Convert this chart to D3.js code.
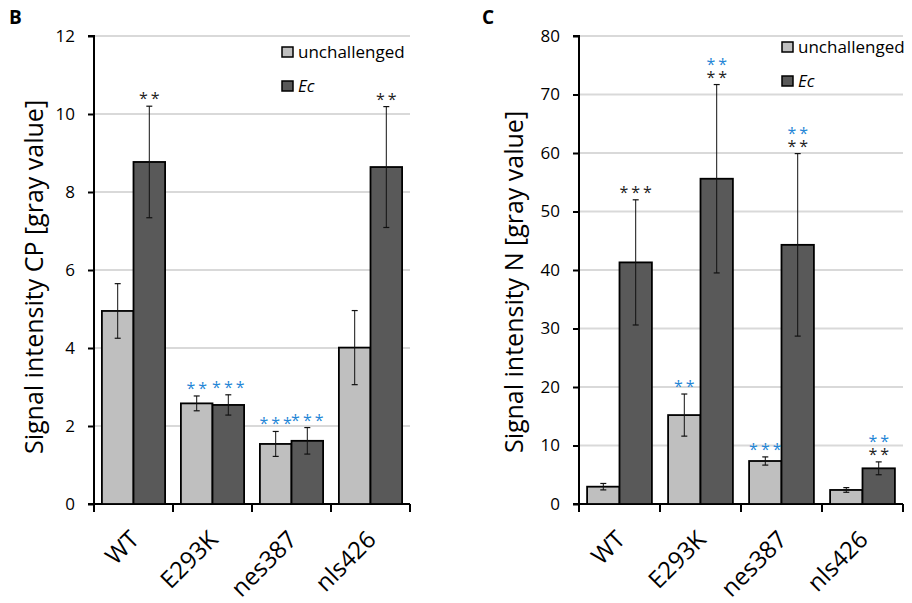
<!DOCTYPE html>
<html>
<head>
<meta charset="utf-8">
<script src="https://cdn.jsdelivr.net/npm/d3@7"></script>
<style>
  body { margin: 0; background: #fff; }
  svg { display: block; font-family: "Open Sans", sans-serif; }
</style>
</head>
<body>
<svg id="chart" width="912" height="603"></svg>
<script>
// data
const categories = ['WT', 'E293K', 'nes387', 'nls426'];

// panel B: CP
const cpUnch = [4.95, 2.58, 1.54, 4.01];
const cpUnchErr = [0.7, 0.19, 0.32, 0.95];
const cpEc = [8.77, 2.54, 1.62, 8.64];
const cpEcErr = [1.43, 0.26, 0.34, 1.55];
const cpUnchBlue = ['', '**', '***', ''];
const cpUnchBlack = ['', '', '', ''];
const cpEcBlue = ['', '***', '***', ''];
const cpEcBlack = ['**', '', '', '**'];
const cpTicks = [0, 2, 4, 6, 8, 10, 12];

// panel C: N
const nUnch = [2.96, 15.2, 7.35, 2.4];
const nUnchErr = [0.55, 3.6, 0.7, 0.4];
const nEc = [41.3, 55.6, 44.3, 6.1];
const nEcErr = [10.7, 16.1, 15.6, 1.1];
const nUnchBlue = ['', '**', '***', ''];
const nUnchBlack = ['', '', '', ''];
const nEcBlue = ['', '**', '**', '**'];
const nEcBlack = ['***', '**', '**', '**'];
const nTicks = [0, 10, 20, 30, 40, 50, 60, 70, 80];

const series = ['unchallenged', 'Ec'];
const fills = { unchallenged: '#bfbfbf', Ec: '#595959' };
const blue = '#1f86d6';

const svg = d3.select('#chart');

const drawPanel = (opt) => {
    const g = svg.append('g');
    const x = d3.scaleBand().domain(categories).range([opt.x0, opt.x1]);
    const sub = d3.scaleBand().domain(series).range([0, x.bandwidth()]).paddingOuter(0.25);
    const y = d3.scaleLinear().domain([0, opt.max]).range([504, 36]);

    // gridlines
    g.selectAll('.grid')
        .data(opt.ticks.filter(t => t > 0))
        .enter()
        .append('line')
        .attr('x1', opt.x0)
        .attr('x2', opt.x1)
        .attr('y1', d => y(d))
        .attr('y2', d => y(d))
        .attr('stroke', '#d9d9d9')
        .attr('stroke-width', 2)

    // y axis
    const yAxis = d3.axisLeft(y).tickValues(opt.ticks).tickSize(6).tickPadding(13);
    const ya = g.append('g').attr('transform', `translate(${opt.x0},0)`).call(yAxis);
    ya.select('.domain').attr('stroke', '#000').attr('stroke-width', 2).attr('d', `M-6,36H0V504H-6`);
    ya.selectAll('.tick line').attr('stroke', '#000').attr('stroke-width', 2);
    ya.selectAll('.tick text').attr('font-size', 17).attr('fill', '#000')
        .attr('font-family', '"Open Sans", sans-serif');

    // x axis line + ticks between categories
    g.append('line')
        .attr('x1', opt.x0).attr('x2', opt.x1)
        .attr('y1', y(0)).attr('y2', y(0))
        .attr('stroke', '#000').attr('stroke-width', 2)
    const edges = categories.map(c => x(c)).concat([opt.x1]);
    g.selectAll('.xtick')
        .data(edges)
        .enter()
        .append('line')
        .attr('x1', d => d).attr('x2', d => d)
        .attr('y1', y(0)).attr('y2', y(0) + 8)
        .attr('stroke', '#000').attr('stroke-width', 2)

    const rows = [];
    categories.forEach((c, i) => {
        rows.push({ cat: c, s: 'unchallenged', v: opt.unch[i], e: opt.unchErr[i], blue: opt.unchBlue[i], black: opt.unchBlack[i] });
        rows.push({ cat: c, s: 'Ec', v: opt.ec[i], e: opt.ecErr[i], blue: opt.ecBlue[i], black: opt.ecBlack[i] });
    });
    const cx = d => x(d.cat) + sub(d.s) + sub.bandwidth() / 2;

    g.selectAll('.bar')
        .data(rows)
        .enter()
        .append('rect')
        .attr('x', d => x(d.cat) + sub(d.s))
        .attr('y', d => y(d.v))
        .attr('width', sub.bandwidth())
        .attr('height', d => y(0) - y(d.v))
        .attr('fill', d => fills[d.s])
        .attr('stroke', '#000')
        .attr('stroke-width', 1.8)

    // error bars
    const eb = g.selectAll('.err').data(rows).enter().append('g');
    eb.append('line')
        .attr('x1', cx).attr('x2', cx)
        .attr('y1', d => y(d.v + d.e)).attr('y2', d => y(d.v - d.e))
        .attr('stroke', '#111').attr('stroke-width', 1)
    eb.append('line')
        .attr('x1', d => cx(d) - 3).attr('x2', d => cx(d) + 3)
        .attr('y1', d => y(d.v + d.e)).attr('y2', d => y(d.v + d.e))
        .attr('stroke', '#111').attr('stroke-width', 1.2)
    eb.append('line')
        .attr('x1', d => cx(d) - 3).attr('x2', d => cx(d) + 3)
        .attr('y1', d => y(d.v - d.e)).attr('y2', d => y(d.v - d.e))
        .attr('stroke', '#111').attr('stroke-width', 1.2)

    // significance stars: one text per bar, blue above black
    const st = eb.filter(d => d.blue || d.black)
        .append('text')
        .attr('text-anchor', 'middle')
        .attr('font-size', 16)
        .attr('letter-spacing', 3)
        .attr('y', d => y(d.v + d.e) - 2);
    st.filter(d => d.blue)
        .append('tspan')
        .text(d => d.blue)
        .attr('x', d => cx(d) + 1.5)
        .attr('dy', d => d.black ? -13 : 0)
        .attr('fill', blue)
    st.filter(d => d.black)
        .append('tspan')
        .text(d => d.black)
        .attr('x', d => cx(d) + 1.5)
        .attr('dy', d => d.blue ? 13 : 0)
        .attr('fill', '#222')

    // x labels
    g.selectAll('.xlab')
        .data(categories)
        .enter()
        .append('text')
        .text(d => d)
        .attr('transform', d => `translate(${x(d) + x.bandwidth() / 2 + 7},${y(0) + 37}) rotate(-45)`)
        .attr('text-anchor', 'end')
        .attr('font-size', 24)
        .attr('fill', '#000')

    // y label
    g.append('text')
        .text(opt.label)
        .attr('transform', `translate(${opt.labelX},${opt.labelY}) rotate(-90)`)
        .attr('text-anchor', 'middle')
        .attr('font-size', 25)
        .attr('fill', '#000')

    // panel letter
    g.append('text')
        .text(opt.letter)
        .attr('x', opt.letterX)
        .attr('y', 24)
        .attr('font-size', 19)
        .attr('font-weight', 'bold')

    // legend
    const lg = g.selectAll('.leg')
        .data(series)
        .enter()
        .append('g')
        .attr('transform', (d, i) => `translate(${opt.legX},${opt.legY + i * 34})`);
    lg.append('rect')
        .attr('width', 11).attr('height', 10)
        .attr('fill', d => fills[d])
        .attr('stroke', '#000').attr('stroke-width', 1.5)
    lg.append('text')
        .text(d => d)
        .attr('x', 16)
        .attr('y', 11)
        .attr('font-size', 17)
        .attr('font-style', d => d === 'Ec' ? 'italic' : 'normal')
        .attr('fill', '#000')
};

drawPanel({
    x0: 94, x1: 410, max: 12, ticks: cpTicks,
    unch: cpUnch, unchErr: cpUnchErr, ec: cpEc, ecErr: cpEcErr,
    unchBlue: cpUnchBlue, unchBlack: cpUnchBlack, ecBlue: cpEcBlue, ecBlack: cpEcBlack,
    label: 'Signal intensity CP [gray value]', labelX: 43, labelY: 277,
    letter: 'B', letterX: 9, legX: 282, legY: 47
});

drawPanel({
    x0: 579, x1: 903, max: 80, ticks: nTicks,
    unch: nUnch, unchErr: nUnchErr, ec: nEc, ecErr: nEcErr,
    unchBlue: nUnchBlue, unchBlack: nUnchBlack, ecBlue: nEcBlue, ecBlack: nEcBlack,
    label: 'Signal intensity N [gray value]', labelX: 523, labelY: 282,
    letter: 'C', letterX: 482, legX: 782, legY: 42
});
</script>
</body>
</html>
